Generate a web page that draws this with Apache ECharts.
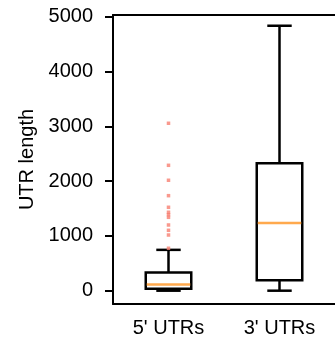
<!DOCTYPE html>
<html>
<head>
<meta charset="utf-8">
<script src="https://cdn.jsdelivr.net/npm/echarts@6/dist/echarts.min.js"></script>
<style>
    html, body {margin: 0; padding: 0; background: #fff;}
    #chart {width: 335px; height: 350px;}
</style>
</head>
<body>
<div id="chart"></div>
<script>
    // categories and box stats (low whisker, q1, median, q3, high whisker)
    const categories = ["5' UTRs", "3' UTRs"];
    const lowWhisker = [0, 0];
    const q1 = [35, 190];
    const median = [115, 1235];
    const q3 = [330, 2325];
    const highWhisker = [745, 4835];
    // outliers of 5' UTRs
    const outliers5 = [3055, 2288, 2015, 1734, 1522, 1431, 1387, 1339, 1199, 1102, 1016, 774];
    const yTicks = [0, 1000, 2000, 3000, 4000, 5000];

    const font = 'Liberation Sans, Arial, sans-serif';
    const boxData = categories.map((c, i) => [i, lowWhisker[i], q1[i], median[i], q3[i], highWhisker[i]]);

    const chart = echarts.init(document.getElementById('chart'));

    function renderBox(params, api) {
        const x = api.value(0);
        const pLow = api.coord([x, api.value(1)]);
        const pQ1 = api.coord([x, api.value(2)]);
        const pMed = api.coord([x, api.value(3)]);
        const pQ3 = api.coord([x, api.value(4)]);
        const pHigh = api.coord([x, api.value(5)]);
        const band = api.size([1, 0])[0];
        const halfBox = band * 0.41 / 2;
        const halfCap = band * 0.22 / 2;
        const cx = pQ1[0];
        const line = {stroke: '#000', lineWidth: 2.5};
        return {
            type: 'group',
            children: [
                {type: 'line', shape: {x1: cx, y1: pLow[1], x2: cx, y2: pQ1[1]}, style: line},
                {type: 'line', shape: {x1: cx, y1: pQ3[1], x2: cx, y2: pHigh[1]}, style: line},
                {type: 'line', shape: {x1: cx - halfCap, y1: pLow[1], x2: cx + halfCap, y2: pLow[1]}, style: line},
                {type: 'line', shape: {x1: cx - halfCap, y1: pHigh[1], x2: cx + halfCap, y2: pHigh[1]}, style: line},
                {
                    type: 'rect',
                    shape: {x: cx - halfBox, y: pQ3[1], width: halfBox * 2, height: pQ1[1] - pQ3[1]},
                    style: {fill: '#fff', stroke: '#000', lineWidth: 2.5}
                },
                {
                    type: 'line',
                    shape: {x1: cx - halfBox + 1, y1: pMed[1], x2: cx + halfBox - 1, y2: pMed[1]},
                    style: {stroke: '#ffa94d', lineWidth: 2.5}
                }
            ]
        };
    }

    chart.setOption({
        animation: false,
        grid: {
            left: 113,
            top: 15,
            width: 224,
            height: 289
        },
        xAxis: [
            {
                type: 'category',
                data: categories,
                boundaryGap: true,
                axisLine: {onZero: false, lineStyle: {color: '#000', width: 2}},
                axisTick: {alignWithLabel: true, length: 8, lineStyle: {color: '#000', width: 2}},
                axisLabel: {color: '#000', fontSize: 20, fontFamily: font, margin: 14},
                splitLine: {show: false}
            },
            {
                // top spine only
                type: 'category',
                position: 'top',
                data: categories,
                axisLine: {onZero: false, lineStyle: {color: '#000', width: 2}},
                axisTick: {show: false},
                axisLabel: {show: false},
                splitLine: {show: false}
            }
        ],
        yAxis: {
            type: 'value',
            min: -243,
            max: 5031,
            name: 'UTR length',
            nameLocation: 'middle',
            nameGap: 76,
            nameTextStyle: {color: '#000', fontSize: 20, fontFamily: font},
            axisLine: {show: true, lineStyle: {color: '#000', width: 2}},
            axisTick: {show: true, length: 8, customValues: yTicks, lineStyle: {color: '#000', width: 2}},
            axisLabel: {
                color: '#000', fontSize: 20, fontFamily: font, margin: 20,
                customValues: yTicks,
                formatter: v => String(v)
            },
            splitLine: {show: false}
        },
        series: [
            {
                type: 'custom',
                renderItem: renderBox,
                data: boxData,
                encode: {x: 0, y: [1, 2, 3, 4, 5]},
                z: 2
            },
            {
                type: 'scatter',
                symbol: 'rect',
                symbolSize: 3.5,
                itemStyle: {color: '#f77f72'},
                data: outliers5.map(v => [0, v]),
                z: 3
            }
        ]
    });
</script>
</body>
</html>
